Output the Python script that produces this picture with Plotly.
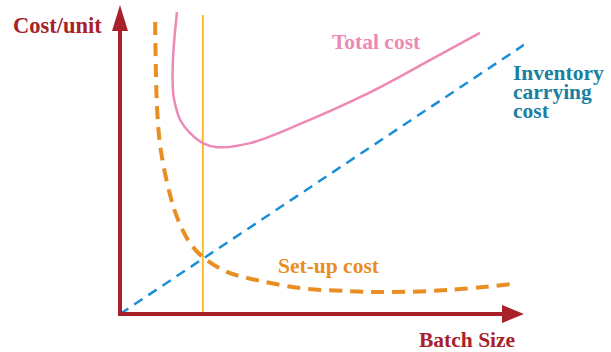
import plotly.graph_objects as go

# Batch-size economics: cost per unit vs batch size (schematic units 0-100)
setup_x = [8.7, 9.2, 10.1, 12.4, 14.4, 17.3, 20.5, 26.0, 31.4, 44.6, 56.9, 66.8, 81.7, 97.0]
setup_y = [94.5, 66.0, 53.1, 38.5, 30.4, 23.0, 18.4, 13.9, 11.7, 8.4, 7.4, 7.1, 7.8, 9.7]

total_x = [14.1, 13.1, 13.1, 13.4, 14.9, 17.3, 20.5, 24.0, 32.2, 44.6, 61.1, 77.5, 89.1]
total_y = [97.7, 82.2, 72.5, 69.3, 62.8, 58.6, 55.3, 54.0, 55.3, 61.5, 71.2, 82.7, 91.0]

carry_x = [0, 100]
carry_y = [0, 87.1]

optimum_x = 20.5
optimum_top = 96.8

AXIS = "#A8212A"
PINK = "#EE88B6"
BLUE = "#1A8FD3"
TEAL = "#1A7FA0"
ORANGE = "#E88E22"
YELLOW = "#FDBA2C"
FONT = "Liberation Serif"

W, H = 611, 352
ML, MR, MT, MB = 120, 87, 5, 38
PW, PH = W - ML - MR, H - MT - MB


def px(x):
    return (x - ML) / PW


def py(y):
    return (H - MB - y) / PH


fig = go.Figure()

fig.add_trace(go.Scatter(x=carry_x, y=carry_y, mode="lines",
                         line=dict(color=BLUE, width=2.5, dash="10px,7px"),
                         hoverinfo="skip"))
fig.add_trace(go.Scatter(x=[optimum_x, optimum_x], y=[0, optimum_top], mode="lines",
                         line=dict(color=YELLOW, width=2), hoverinfo="skip"))
fig.add_trace(go.Scatter(x=setup_x, y=setup_y, mode="lines",
                         line=dict(color=ORANGE, width=4, dash="13px,8px", shape="spline"),
                         hoverinfo="skip"))
fig.add_trace(go.Scatter(x=total_x, y=total_y, mode="lines",
                         line=dict(color=PINK, width=2.5, shape="spline", smoothing=1.0),
                         hoverinfo="skip"))

# axes with arrowheads
shapes = [
    dict(type="line", xref="paper", yref="paper", x0=px(120), x1=px(120),
         y0=py(316), y1=py(28), line=dict(color=AXIS, width=4)),
    dict(type="path", xref="paper", yref="paper",
         path=f"M {px(112)},{py(31)} L {px(128)},{py(31)} L {px(120)},{py(5)} Z",
         fillcolor=AXIS, line=dict(width=0)),
    dict(type="line", xref="paper", yref="paper", x0=px(118), x1=px(504),
         y0=py(314), y1=py(314), line=dict(color=AXIS, width=4)),
    dict(type="path", xref="paper", yref="paper",
         path=f"M {px(502)},{py(305)} L {px(502)},{py(323)} L {px(524)},{py(314)} Z",
         fillcolor=AXIS, line=dict(width=0)),
]


def label(text, x, y, color, anchor="left", size=21.5):
    return dict(text=f"<b>{text}</b>", xref="paper", yref="paper", x=px(x), y=py(y),
                xanchor=anchor, yanchor="middle", showarrow=False,
                font=dict(family=FONT, size=size, color=color))


annotations = [
    label("Cost/unit", 11, 25, AXIS, size=22.5),
    label("Batch Size", 417, 340, AXIS),
    label("Total cost", 330, 42, PINK),
    label("Set-up cost", 276, 266, ORANGE),
    label("Inventory", 511, 73, TEAL),
    label("carrying", 511, 92, TEAL),
    label("cost", 511, 111, TEAL),
]

fig.update_layout(
    width=W, height=H,
    margin=dict(l=ML, r=MR, t=MT, b=MB),
    paper_bgcolor="white", plot_bgcolor="white",
    showlegend=False,
    xaxis=dict(range=[0, 100], visible=False),
    yaxis=dict(range=[0, 100], visible=False),
    shapes=shapes,
    annotations=annotations,
)

fig.write_html("out.html")
